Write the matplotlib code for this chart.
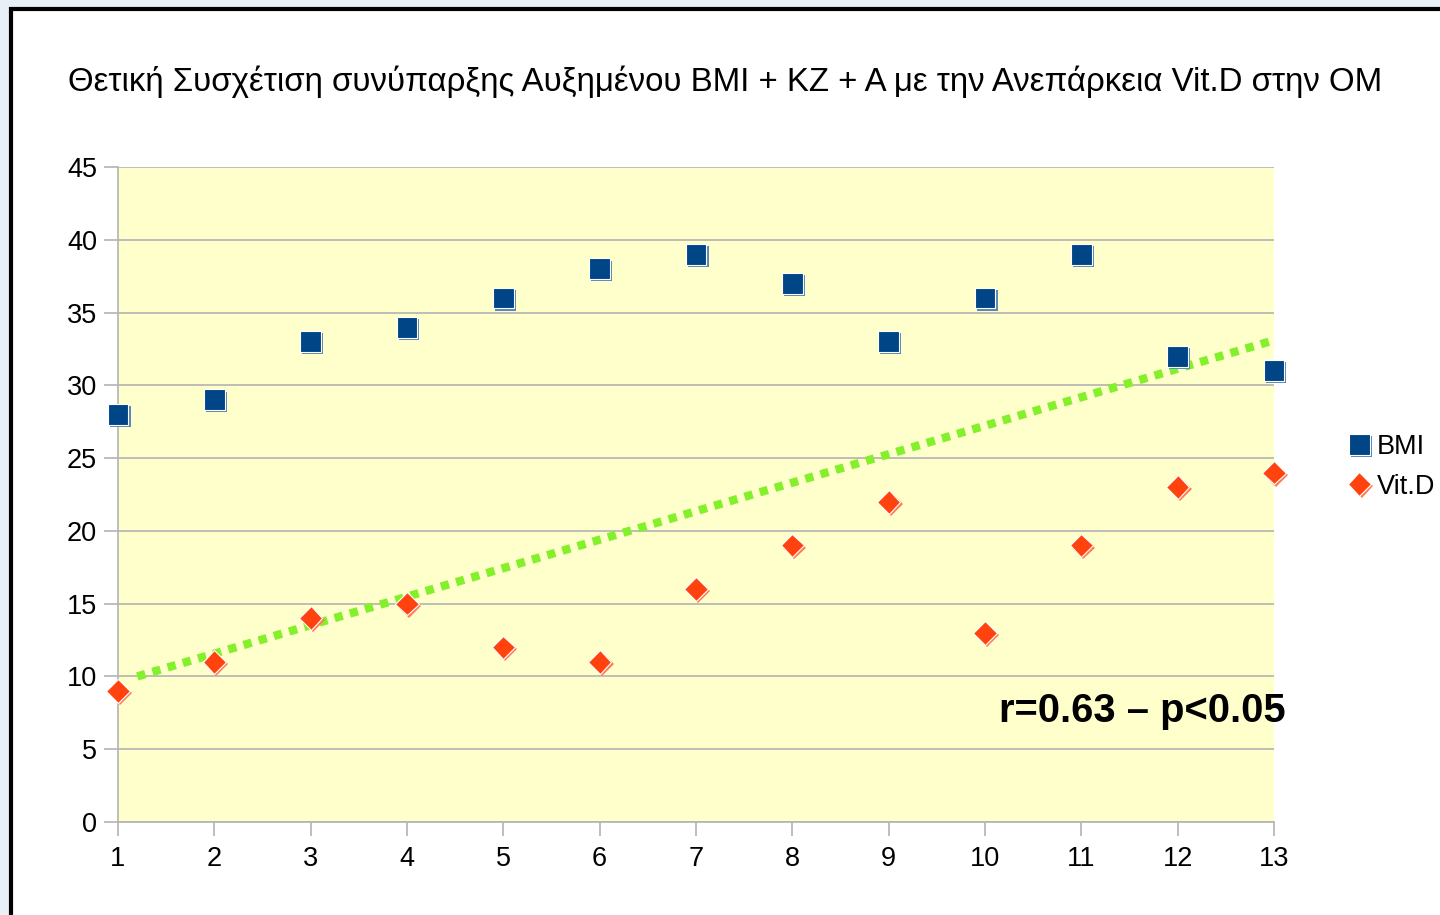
import matplotlib.pyplot as plt
from matplotlib.patches import Rectangle
import matplotlib.patheffects as pe

plt.rcParams['font.family'] = ['Liberation Sans', 'DejaVu Sans']

x = list(range(1, 14))
bmi = [28, 29, 33, 34, 36, 38, 39, 37, 33, 36, 39, 32, 31]
vitd = [9, 11, 14, 15, 12, 11, 16, 19, 22, 13, 19, 23, 24]
# hand-drawn trend line endpoints
trend_x = [1.2, 12.95]
trend_y = [10, 33]

title = "Θετική Συσχέτιση συνύπαρξης Αυξημένου BMI + KZ + A με την Ανεπάρκεια Vit.D στην OM"
note = "r=0.63 – p<0.05"

fig = plt.figure(figsize=(14.4, 9.15), dpi=100)
fig.patch.set_facecolor('#e9eff6')
fig.patches.append(Rectangle((11 / 1440, -0.05), 1.2, 1 - 9 / 915 + 0.05,
                             transform=fig.transFigure, facecolor='white',
                             edgecolor='black', lw=3, zorder=-1))

ax = fig.add_axes([118 / 1440, 1 - 822 / 915, (1274 - 118) / 1440, (822 - 167) / 915])
ax.set_zorder(2)
ax.set_facecolor('#ffffcc')

sq_shadow = [pe.SimplePatchShadow(offset=(1.5, -1.5), shadow_rgbFace='#5b86b8', alpha=1.0), pe.Normal()]
di_shadow = [pe.SimplePatchShadow(offset=(1.5, -1.5), shadow_rgbFace='#ff7a55', alpha=1.0), pe.Normal()]
ax.plot(x, bmi, ls='none', marker='s', ms=15, mfc='#004586', mec='white', mew=0.8,
        label='BMI', zorder=4, clip_on=False, path_effects=sq_shadow)
ax.plot(x, vitd, ls='none', marker='D', ms=12, mfc='#ff420e', mec='white', mew=0.8,
        label='Vit.D', zorder=4, clip_on=False, path_effects=di_shadow)
ax.plot(trend_x, trend_y, color='#83f02b', lw=6, ls=(0, (1.0, 0.9)), zorder=3)

ax.set_xlim(1, 13)
ax.set_ylim(0, 45)
ax.set_xticks(x)
ax.set_yticks(range(0, 50, 5))
ax.grid(axis='y', color='#b3b3b3', lw=1.2)
ax.set_axisbelow(True)
for s in ['top', 'right']:
    ax.spines[s].set_visible(False)
for s in ['left', 'bottom']:
    ax.spines[s].set_color('#b3b3b3')
    ax.spines[s].set_linewidth(1.2)
ax.tick_params(axis='both', colors='#b3b3b3', labelcolor='black', labelsize=19.5,
               length=10, width=1.2)
ax.tick_params(axis='x', pad=7.5)
ax.tick_params(axis='y', pad=5)

ax.text(13.12, 7.6, note, fontsize=28.7, fontweight='bold', ha='right', va='center')

fig.text(68 / 1440, 1 - 82 / 915, title, fontsize=23.8, ha='left', va='center')

ax.legend(loc='center left', bbox_to_anchor=(1.047, 0.542), frameon=False,
          fontsize=19.5, handletextpad=0.0, labelspacing=0.5, borderpad=0,
          handlelength=1.3)

fig.savefig('out.png', dpi=100, facecolor=fig.get_facecolor())
